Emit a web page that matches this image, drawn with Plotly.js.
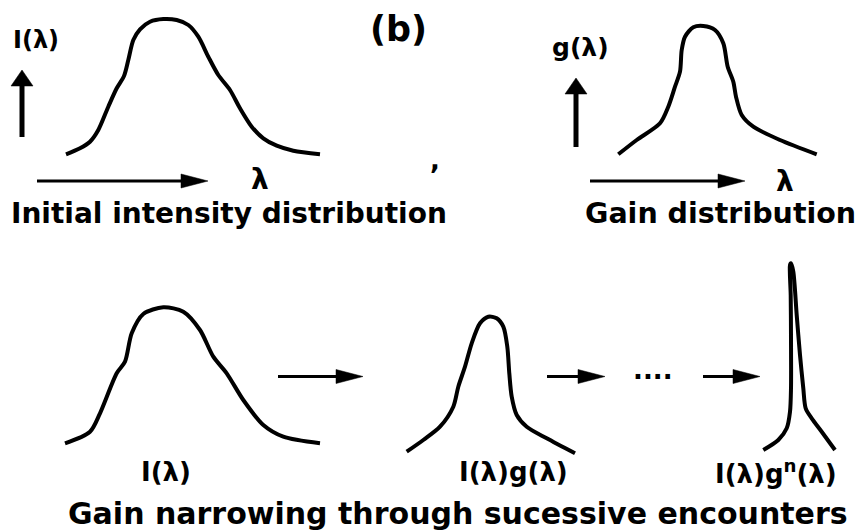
<!DOCTYPE html>
<html>
<head>
<meta charset="utf-8">
<script src="https://cdn.plot.ly/plotly-3.0.1.min.js"></script>
<style>html,body{margin:0;padding:0;background:#fff;}</style>
</head>
<body>
<div id="chart" style="width:859px;height:531px;"></div>
<script>
// Curves (pixel-space coordinates, y downwards)
const initX = [66, 80, 90, 98.3, 108.3, 116.7, 124, 128.3, 133.3, 140, 150, 163.3, 176.7, 188.3, 198.3, 208.3, 218.3, 230, 240, 251.7, 263.3, 276.7, 293.3, 320];
const initY = [154.3, 148.3, 141.7, 130, 106.7, 88.3, 76, 60, 40, 29.3, 21.7, 19, 20, 25, 36.7, 56.7, 75, 90, 108.3, 126.7, 138.3, 145.7, 150.7, 154.3];

const gainX = [618.3, 636.7, 660, 668.3, 675, 680, 681.7, 685, 693.3, 703.3, 715, 723.3, 727.7, 733.3, 736, 741.7, 753.3, 780, 816.7];
const gainY = [154.3, 140, 123.3, 106.7, 86.7, 71.7, 50, 36.7, 27.3, 26, 30, 43.3, 66.7, 81.7, 96.7, 115, 126.7, 140, 154.3];

const stage1X = [65, 90, 100, 116.7, 125, 131.7, 143.3, 163.3, 183.3, 200, 213.3, 226.7, 243.3, 263.3, 283.3, 320];
const stage1Y = [443.3, 431.7, 413.3, 373.3, 361.7, 333.3, 314, 307.3, 311.7, 330, 356.7, 373.3, 400, 425, 436.7, 443.3];

const stage2X = [406.7, 423.3, 440, 453.3, 458.3, 465, 471.7, 480, 488.3, 496.7, 503.3, 507.3, 509.3, 511.7, 516.7, 526.7, 546.7, 575];
const stage2Y = [451.7, 440, 426.7, 406.7, 386.7, 366.7, 343.3, 323.3, 316.7, 318.3, 326.7, 346.7, 373.3, 396.7, 415, 426.7, 438.3, 453.3];

const stageNX = [763.3, 778.3, 786.7, 790, 791, 791, 790.7, 790, 791, 793.3, 796.7, 800, 803.3, 805.7, 811.7, 821.7, 835];
const stageNY = [450, 440, 428.3, 411.7, 388.3, 338.3, 295, 265, 263.3, 271.7, 315, 355, 388.3, 408.3, 418.3, 431.7, 450];

// Arrows: tail -> tip
const arrowX0 = [22, 37, 576, 590, 278, 547, 703];
const arrowY0 = [137, 181, 147, 181, 376.5, 376.5, 376.5];
const arrowX1 = [22, 208, 576, 745, 363, 605, 760];
const arrowY1 = [70, 181, 78, 181, 376.5, 376.5, 376.5];

// Text labels
const labelText = ["(b)", "I(λ)", "λ", "g(λ)", "λ", ",", "Initial intensity distribution", "Gain distribution",
  "I(λ)", "I(λ)g(λ)", "I(λ)g<sup>n</sup>(λ)", "....", "Gain narrowing through sucessive encounters"];
const labelX = [398, 36, 260, 580, 785, 435, 229, 720, 166, 513, 776, 653, 458];
const labelY = [29, 40, 179, 47, 181, 160, 213, 213, 472, 472, 472, 370, 513];
const labelSize = [35, 24, 28, 25, 28, 26, 28, 28.5, 26, 26, 26, 26, 30];

const FONT = "DejaVu Sans, Arial, sans-serif";
const curves = [[initX, initY], [gainX, gainY], [stage1X, stage1Y], [stage2X, stage2Y], [stageNX, stageNY]];
const traces = curves.map(c => ({
  x: c[0], y: c[1], type: 'scatter', mode: 'lines',
  line: {color: '#000', width: 4, shape: 'spline', smoothing: 0.8},
  hoverinfo: 'skip', showlegend: false
}));

const shapes = [];
for (let i = 0; i < arrowX0.length; i++) {
  const x0 = arrowX0[i], y0 = arrowY0[i], x1 = arrowX1[i], y1 = arrowY1[i];
  const vertical = Math.abs(x1 - x0) < Math.abs(y1 - y0);
  const headLen = vertical ? 16 : 27;
  const headHalf = vertical ? 11 : 7;
  const shaftW = vertical ? 5 : 3;
  const len = Math.hypot(x1 - x0, y1 - y0);
  const ux = (x1 - x0) / len, uy = (y1 - y0) / len;
  const bx = x1 - ux * headLen, by = y1 - uy * headLen;
  const px = -uy, py = ux;
  shapes.push({type: 'line', xref: 'x', yref: 'y', x0: x0, y0: y0, x1: bx + ux * 1, y1: by + uy * 1,
    line: {color: '#000', width: shaftW}});
  shapes.push({type: 'path', xref: 'x', yref: 'y',
    path: `M ${x1} ${y1} L ${bx + px * headHalf} ${by + py * headHalf} L ${bx - px * headHalf} ${by - py * headHalf} Z`,
    fillcolor: '#000', line: {color: '#000', width: 0.5}});
}

const annotations = labelText.map((t, i) => ({
  text: t, x: labelX[i], y: labelY[i], xref: 'x', yref: 'y',
  xanchor: 'center', yanchor: 'middle', showarrow: false,
  font: {family: FONT, size: labelSize[i], color: '#000', weight: 700}
}));

const layout = {
  width: 859, height: 531, autosize: false,
  margin: {l: 0, r: 0, t: 0, b: 0, pad: 0},
  paper_bgcolor: '#fff', plot_bgcolor: '#fff',
  xaxis: {range: [0, 859], visible: false, fixedrange: true},
  yaxis: {range: [531, 0], visible: false, fixedrange: true},
  shapes: shapes, annotations: annotations, showlegend: false
};

Plotly.newPlot('chart', traces, layout, {staticPlot: true, displayModeBar: false});
</script>
</body>
</html>
